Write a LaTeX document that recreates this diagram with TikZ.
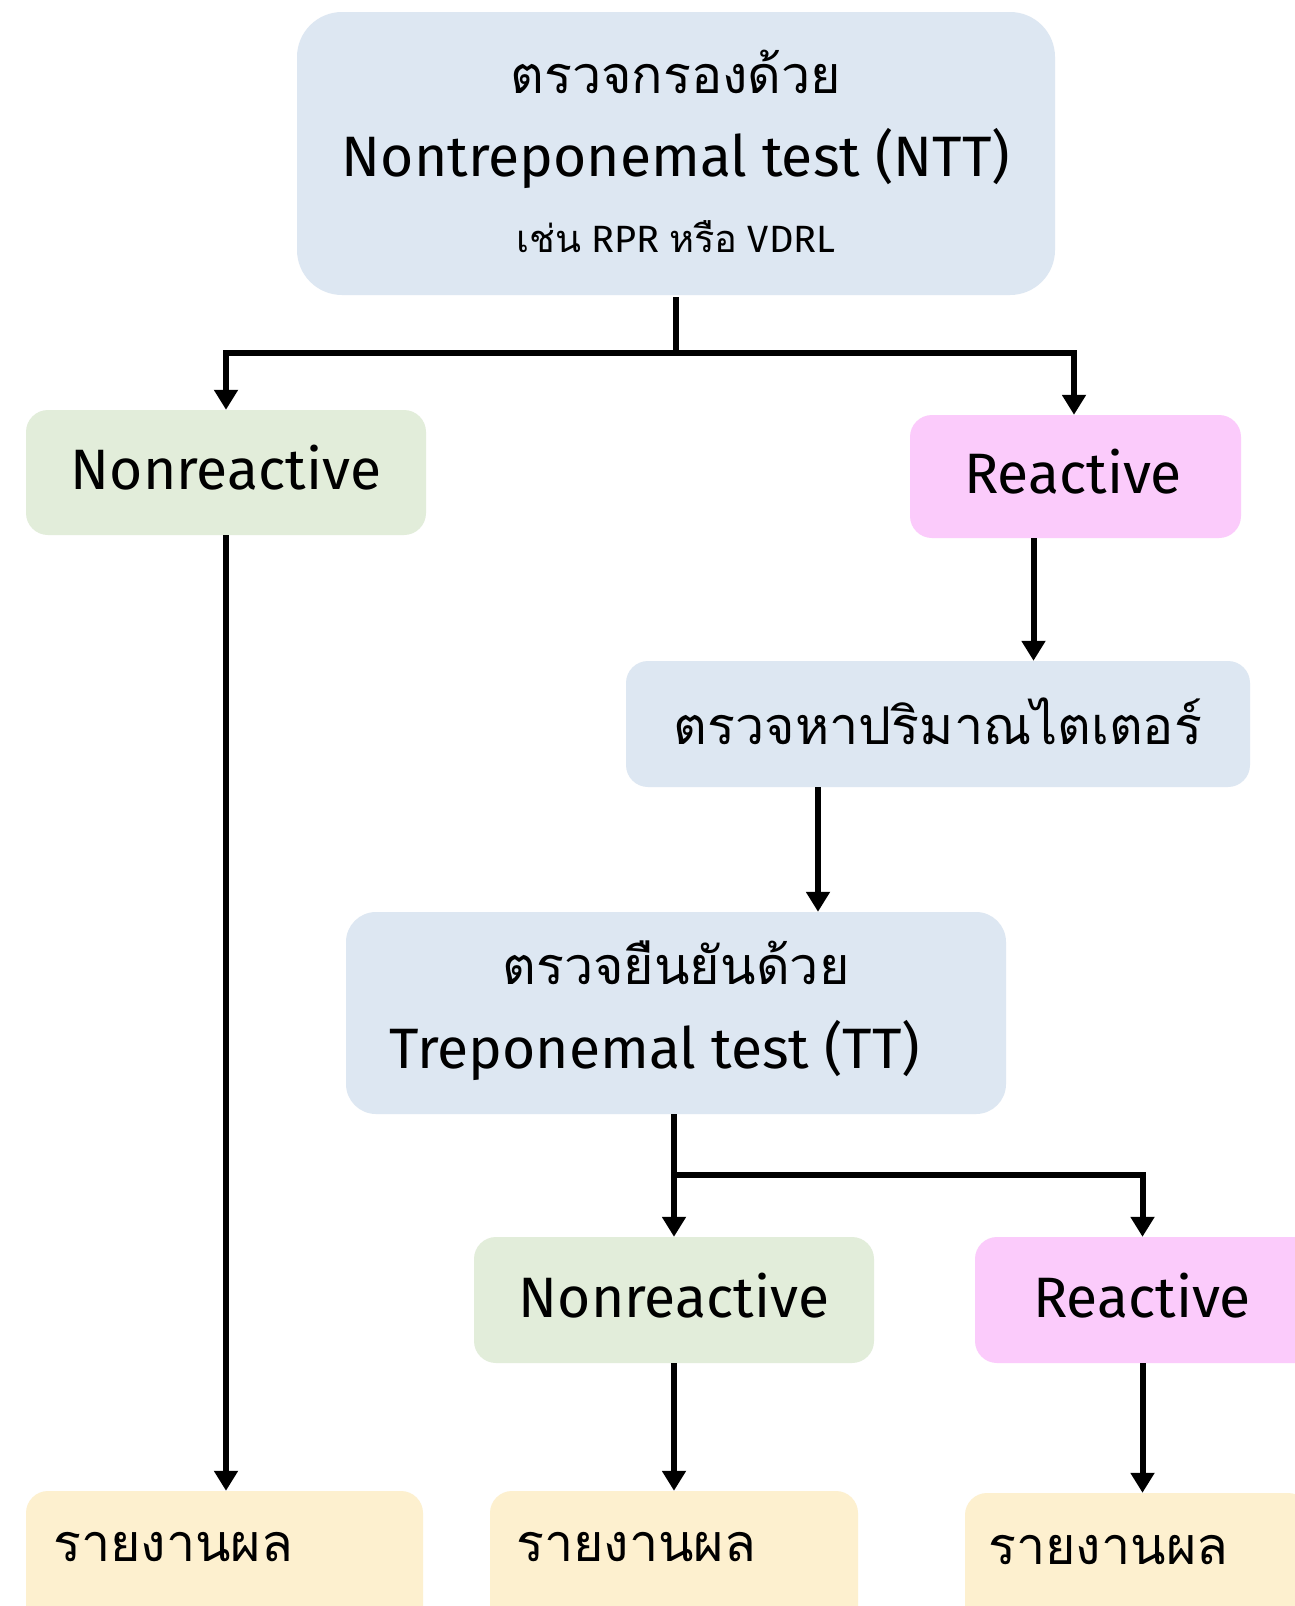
\documentclass[tikz,border=0pt]{standalone}
\usepackage{fontspec}
\setmainfont{Fira Sans}
\newfontfamily\thai[Script=Thai]{Loma}
\usetikzlibrary{arrows.meta,calc}
\definecolor{bxblue}{HTML}{DDE7F2}
\definecolor{bxgreen}{HTML}{E2EDDA}
\definecolor{bxpink}{HTML}{FBCBFB}
\definecolor{bxcream}{HTML}{FDF0CF}
\tikzset{
  box/.style={rectangle, rounded corners=22pt, inner sep=0pt, anchor=center},
  lbl/.style={inner sep=0pt, font=\fontsize{57}{60}\selectfont},
  thl/.style={inner sep=0pt, font=\thai\fontsize{52}{56}\selectfont},
  arr/.style={line width=6pt, -{Triangle[length=20pt,width=23pt]}},
  ln/.style={line width=6pt}
}
\begin{document}
\begin{tikzpicture}[x=1pt,y=-1pt]
\useasboundingbox[fill=white] (0,0) rectangle (1295,1606);
% boxes
\node[box, fill=bxblue, rounded corners=45pt, minimum width=758pt, minimum height=283pt] (top) at (676,153.5) {};
\node[thl] (t1) at (676,72) {ตรวจกรองด้วย};
\node[lbl] (t2) at (676,158) {Nontreponemal test (NTT)};
\node[inner sep=0pt, font=\fontsize{38}{40}\selectfont] (t3) at (676,237) {{\thai\fontsize{38}{40}\selectfont เช่น} RPR {\thai\fontsize{38}{40}\selectfont หรือ} VDRL};

\node[box, fill=bxgreen, minimum width=400pt, minimum height=125pt] (nr1) at (226,472.5) {};
\node[lbl] (nr1t) at (226,468) {Nonreactive};
\node[box, fill=bxpink, minimum width=331pt, minimum height=123pt] (r1) at (1075.5,476.5) {};
\node[lbl] (r1t) at (1073,472) {Reactive};

\node[box, fill=bxblue, minimum width=624pt, minimum height=126pt] (titer) at (938,724) {};
\node[thl] (titert) at (938,721) {ตรวจหาปริมาณไตเตอร์};

\node[box, fill=bxblue, rounded corners=30pt, minimum width=660pt, minimum height=202pt] (tt) at (676,1013) {};
\node[thl] (tt1) at (676,963) {ตรวจยืนยันด้วย};
\node[lbl] (tt2) at (655,1050) {Treponemal test (TT)};

\node[box, fill=bxgreen, minimum width=400pt, minimum height=126pt] (nr2) at (674,1300) {};
\node[lbl] (nr2t) at (674,1296) {Nonreactive};
\node[box, fill=bxpink, minimum width=345pt, minimum height=126pt] (r2) at (1147.5,1300) {};
\node[lbl] (r2t) at (1142,1296) {Reactive};

\node[box, fill=bxcream, minimum width=397pt, minimum height=150pt] (rep1) at (224.5,1566) {};
\node[thl, anchor=west] (rep1t) at (53,1547) {รายงานผล};
\node[box, fill=bxcream, minimum width=368pt, minimum height=150pt] (rep2) at (674,1566) {};
\node[thl, anchor=west] (rep2t) at (516,1547) {รายงานผล};
\node[box, fill=bxcream, minimum width=345pt, minimum height=150pt] (rep3) at (1137.5,1568) {};
\node[thl, anchor=west] (rep3t) at (988,1550) {รายงานผล};

% connectors
\coordinate (j1) at ($(top.south)+(0,58)$);
\draw[ln] ([yshift=-2pt]top.south) -- (j1);
\draw[arr] (j1) -| (nr1.north);
\draw[arr] (j1) -| ([xshift=-1.5pt]r1.north);
\draw[arr] ([xshift=-42pt]r1.south) -- ([xshift=-42pt]r1.south |- titer.north);
\draw[arr] ([xshift=-120pt]titer.south) -- ([xshift=-120pt]titer.south |- tt.north);
\coordinate (j2) at ($(tt.south)+(-2,61)$);
\draw[ln] ([xshift=-2pt]tt.south) -- (j2);
\draw[arr] (j2) -| (nr2.north);
\draw[arr] (j2) -| ([xshift=-5pt]r2.north);
\draw[arr] (nr1.south) -- (nr1.south |- rep1.north);
\draw[arr] (nr2.south) -- (nr2.south |- rep2.north);
\draw[arr] ([xshift=-5pt]r2.south) -- ([xshift=-5pt]r2.south |- rep3.north);
\end{tikzpicture}
\end{document}
